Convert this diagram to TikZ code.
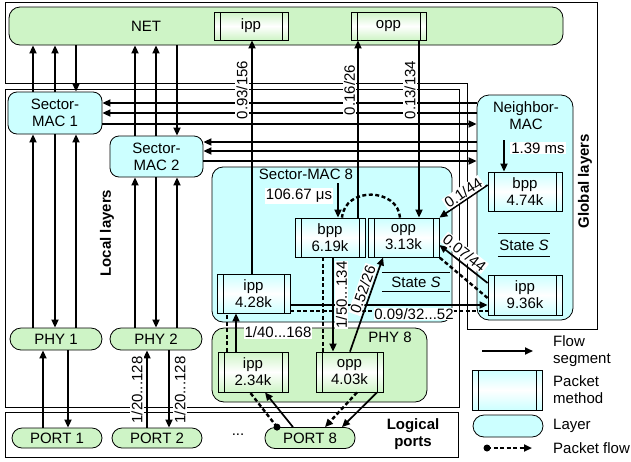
\documentclass[tikz,border=0pt]{standalone}
\usepackage{fontspec}
\setmainfont{Liberation Sans}
\usetikzlibrary{arrows.meta}
\definecolor{lgreen}{RGB}{206,244,198}
\definecolor{lcyan}{RGB}{204,255,255}
\begin{document}
\begin{tikzpicture}[x=1pt,y=-1pt,
  every node/.style={font=\fontsize{15}{17}\selectfont, align=center, inner sep=0pt},
  lyrG/.style={draw, line width=0.8pt, fill=lgreen},
  lyrC/.style={draw, line width=0.8pt, fill=lcyan},
  pkt/.style={draw, line width=0.8pt, top color=#1, bottom color=#1, middle color=white,
    path picture={
      \draw[line width=0.8pt] ([xshift=6pt]path picture bounding box.north west) -- ([xshift=6pt]path picture bounding box.south west);
      \draw[line width=0.8pt] ([xshift=-6pt]path picture bounding box.north east) -- ([xshift=-6pt]path picture bounding box.south east);
    }},
  flow/.style={line width=1.7pt, -{Triangle[length=8pt,width=7pt]}},
  pflow/.style={line width=2.4pt, dash pattern=on 4pt off 2.5pt},
  ptip/.style={-{Triangle[length=8pt,width=7pt]}},
  lab/.style={fill=white, inner sep=1pt},
  frame/.style={line width=1pt},
  ttl/.style={font=\fontsize{15}{17}\selectfont\bfseries},
]
\useasboundingbox (0,0) rectangle (631,461);
% region frames
\draw[frame] (5,2) -- (597,2) -- (597,329) -- (467,329) -- (467,83) -- (5,83) -- cycle;
\draw[frame] (5,89) rectangle (459,407);
\draw[frame] (5,412) rectangle (458,457);

% layers
\node[lyrG, rounded corners=11pt, minimum width=554pt, minimum height=38pt] (net) at (286,26) {};
\node (nettxt) at (146,26) {NET};
\node[lyrC, rounded corners=9pt, minimum width=94pt, minimum height=42pt] (sm1) at (55,113) {Sector-\\MAC 1};
\node[lyrC, rounded corners=9pt, minimum width=93pt, minimum height=41pt] (sm2) at (156.5,156.5) {Sector-\\MAC 2};
\node[lyrC, rounded corners=11pt, minimum width=240pt, minimum height=155pt] (sm8) at (332,244.5) {};
\node (sm8t) at (306,174) {Sector-MAC 8};
\node[lyrC, rounded corners=12pt, minimum width=96pt, minimum height=225pt] (nm) at (525,207.5) {};
\node (nmt) at (526,116) {Neighbor-\\MAC};
\node[lyrG, rounded corners=11pt, minimum width=92pt, minimum height=22pt] (phy1) at (56,339) {PHY 1};
\node[lyrG, rounded corners=11pt, minimum width=92pt, minimum height=22pt] (phy2) at (156,339) {PHY 2};
\node[lyrG, rounded corners=12pt, minimum width=215pt, minimum height=74pt] (phy8) at (319.5,365) {};
\node (phy8t) at (390,337) {PHY 8};
\node[lyrG, rounded corners=10pt, minimum width=90pt, minimum height=20pt] (port1) at (57,438) {PORT 1};
\node[lyrG, rounded corners=10pt, minimum width=90pt, minimum height=20pt] (port2) at (157,438) {PORT 2};
\node[lyrG, rounded corners=10pt, minimum width=90pt, minimum height=21pt] (port8) at (310,438) {PORT 8};
\node (dots) at (238,435) {...};
\node[ttl] (logt) at (413,434) {Logical\\ports};
\node[ttl, rotate=90] (loct) at (107,233) {Local layers};
\node[ttl, rotate=90] (glt) at (585,181) {Global layers};

% packet methods
\node[pkt=lgreen, minimum width=74pt, minimum height=28pt] (nipp) at (251,26) {ipp};
\node[pkt=lgreen, minimum width=75pt, minimum height=28pt] (nopp) at (388.5,26) {opp};
\node[pkt=lcyan, minimum width=70pt, minimum height=39pt] (bpp8) at (330,237.5) {bpp\\6.19k};
\node[pkt=lcyan, minimum width=71pt, minimum height=39pt] (opp8) at (403.5,237.5) {opp\\3.13k};
\node[pkt=lcyan, minimum width=73pt, minimum height=39pt] (ipp8) at (253.5,293.5) {ipp\\4.28k};
\node[pkt=lcyan, minimum width=74pt, minimum height=39pt] (bppn) at (525,191.5) {bpp\\4.74k};
\node[pkt=lcyan, minimum width=74pt, minimum height=40pt] (ippn) at (525,295) {ipp\\9.36k};
\node[pkt=lgreen, minimum width=70pt, minimum height=40pt] (ippp) at (253,372) {ipp\\2.34k};
\node[pkt=lgreen, minimum width=67pt, minimum height=40pt] (oppp) at (349.5,372) {opp\\4.03k};

% state stores
\node[minimum width=68pt, minimum height=18pt] (st8) at (416,282) {State \textit{S}};
\draw[line width=0.8pt] (st8.north west) -- (st8.north east) (st8.south west) -- (st8.south east);
\node[minimum width=52pt, minimum height=22pt] (stn) at (524,245) {State \textit{S}};
\draw[line width=0.8pt] (stn.north west) -- (stn.north east) (stn.south west) -- (stn.south east);

% NET <-> Sector-MACs
\draw[flow] (33,0 |- sm1.north) -- (33,0 |- net.south);
\draw[flow] (55,0 |- sm1.north) -- (55,0 |- net.south);
\draw[flow] (76,0 |- net.south) -- (76,0 |- sm1.north);
\draw[flow] (135,0 |- sm2.north) -- (135,0 |- net.south);
\draw[flow] (156,0 |- sm2.north) -- (156,0 |- net.south);
\draw[flow] (177,0 |- net.south) -- (177,0 |- sm2.north);
% Sector-MAC <-> PHY
\draw[flow] (33,0 |- phy1.north) -- (33,0 |- sm1.south);
\draw[flow] (55,0 |- sm1.south) -- (55,0 |- phy1.north);
\draw[flow] (76,0 |- phy1.north) -- (76,0 |- sm1.south);
\draw[flow] (135,0 |- phy2.north) -- (135,0 |- sm2.south);
\draw[flow] (156,0 |- sm2.south) -- (156,0 |- phy2.north);
\draw[flow] (177,0 |- phy2.north) -- (177,0 |- sm2.south);
% PHY <-> PORT
\draw[flow] (43,0 |- port1.north) -- (43,0 |- phy1.south);
\draw[flow] (68,0 |- phy1.south) -- (68,0 |- port1.north);
\draw[flow] (147,0 |- port2.north) -- (147,0 |- phy2.south);
\draw[flow] (169,0 |- phy2.south) -- (169,0 |- port2.north);
% Neighbor-MAC <-> Sector-MACs
\draw[flow] (nm.west |- 0,103) -- (sm1.east |- 0,103);
\draw[flow] (nm.west |- 0,113) -- (sm1.east |- 0,113);
\draw[flow] (sm1.east |- 0,124) -- (nm.west |- 0,124);
\draw[flow] (nm.west |- 0,142) -- (sm2.east |- 0,142);
\draw[flow] (nm.west |- 0,151) -- (sm2.east |- 0,151);
\draw[flow] (sm2.east |- 0,161) -- (nm.west |- 0,161);
% NET packet methods
\draw[flow] (252,0 |- ipp8.north) -- (252,0 |- nipp.south);
\draw[flow] (358,0 |- bpp8.north) -- (358,0 |- nopp.south);
\draw[flow] (419,0 |- nopp.south) -- (419,0 |- opp8.north);
% timers
\coordinate (c106) at (338,183);
\draw[flow] (c106) -- (338,0 |- bpp8.north);
\coordinate (c139) at (504,140);
\draw[flow] (c139) -- (504,0 |- bppn.north);
% Sector-MAC 8 <-> Neighbor-MAC
\draw[flow] (bppn.west |- 0,185) -- (opp8.north east) node[pos=0.42, sloped, above=0pt, lab] (l01) {0.1/44};
\draw[flow] (ippn.west |- 0,283) -- (opp8.east |- 0,245) node[pos=0.6, sloped, above=2pt, lab] (l007) {0.07/44};
\draw[pflow] (ippn.west |- 0,298) -- (opp8.south east);
\draw[flow] (ipp8.east |- 0,305) -- (ippn.west |- 0,305);
\draw[pflow] (ipp8.east |- 0,311) -- (ippn.west |- 0,311);
% Sector-MAC 8 internal and PHY 8
\draw[pflow] (400,0 |- opp8.north) .. controls (398,188) and (345,186) .. (342,0 |- bpp8.north);
\draw[flow] (236,0 |- ippp.north) -- (236,0 |- ipp8.south);
\draw[pflow] (227,0 |- ippp.north) -- (227,0 |- ipp8.south);
\draw[flow] (333,0 |- bpp8.south) -- (333,0 |- oppp.north);
\draw[pflow] (323,0 |- bpp8.south) -- (323,0 |- oppp.north);
\draw[flow] (350,0 |- oppp.north) -- (383,0 |- opp8.south) node[pos=0.63, sloped, above=1pt, lab] (l052) {0.52/26};
% PORT 8
\coordinate (pd) at (277,0 |- port8.north);
\draw[flow] (293,0 |- port8.north) -- (265,0 |- ippp.south);
\draw[pflow] (pd) -- (250,0 |- ippp.south);
\fill (pd) circle[radius=3.5pt];
\draw[flow] (377,0 |- oppp.south) -- (342,0 |- port8.north);
\draw[pflow, ptip] (357,0 |- oppp.south) -- (325,0 |- port8.north);

% labels
\node[lab, rotate=90] (l093) at (242,90) {0.93/156};
\node[lab, rotate=90] (l016) at (349.5,90) {0.16/26};
\node[lab, rotate=90] (l013) at (410,90) {0.13/134};
\node[lab] (l106) at (299,196) {106.67 μs};
\node[lab] (l139) at (538,148) {1.39 ms};
\node[lab, inner sep=0.5pt] (l009) at (414,314) {0.09/32...52};
\node[lab, rotate=90] (l150) at (341.5,295) {1/50...134};
\node[lab] (l140) at (278,332) {1/40...168};
\node[lab, rotate=90] (l20a) at (137,390) {1/20...128};
\node[lab, rotate=90] (l20b) at (180,390) {1/20...128};

% legend
\coordinate (lfa) at (482,351);
\coordinate (lfb) at (533,351);
\draw[flow] (lfa) -- (lfb);
\node[anchor=west, align=left] (lft) at (553,351) {Flow\\segment};
\node[pkt=lcyan, minimum width=70pt, minimum height=40pt] (lpk) at (507,390) {};
\node[anchor=west, align=left] (lpt) at (553,390) {Packet\\method};
\node[lyrC, rounded corners=11pt, minimum width=70pt, minimum height=22pt] (lly) at (508,426) {};
\node[anchor=west] (llt) at (553,426) {Layer};
\coordinate (lpa) at (487,448);
\coordinate (lpb) at (532,448);
\draw[pflow, ptip] (lpa) -- (lpb);
\fill (lpa) circle[radius=3.5pt];
\node[anchor=west] (lpft) at (553,448) {Packet flow};
\end{tikzpicture}
\end{document}
